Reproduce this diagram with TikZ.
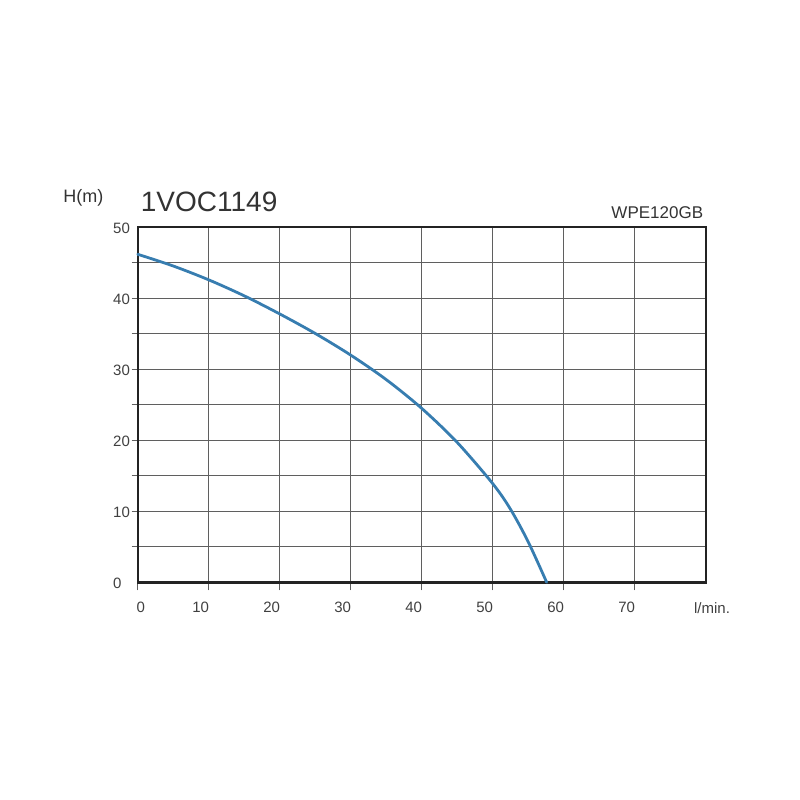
\documentclass[tikz,border=0pt]{standalone}
\usepackage{fontspec}
\setmainfont{Liberation Sans}
\definecolor{curveblue}{RGB}{55,125,176}
\definecolor{gridgray}{RGB}{95,95,95}
\definecolor{framegray}{RGB}{35,35,35}

\begin{document}
\begin{tikzpicture}[x=7.1pt, y=7.1pt,
    gridline/.style={gridgray, line width=1.1pt},
    frameline/.style={framegray, line width=2.4pt, line join=miter},
    headcurve/.style={curveblue, line width=2.8pt, line cap=round},
    ticklabel/.style={inner sep=0pt, text=black!75, font=\fontsize{15}{18}\selectfont},
    titlelabel/.style={inner sep=0pt, text=black!80}]
  \useasboundingbox (-137.7pt,-217.7pt) rectangle (662.3pt,582.3pt);
  % grid with ticks
  \foreach \y in {5,10,...,45}
    \draw[gridline] ([xshift=-6pt]0,\y) -- (80,\y);
  \foreach \x in {0,10,...,70}
    \draw[gridline] ([yshift=-8pt]\x,0) -- (\x,50);
  \draw[frameline] (0,0) rectangle (80,50);
  % pump curve
  \draw[headcurve] plot[smooth, tension=0.5] coordinates {(0,46.2) (5,44.55) (10,42.6) (15,40.35) (20,37.8) (25,35.05) (30,32.0) (35,28.55) (40,24.5) (45,19.7) (50,13.9) (52.5,10.3) (55,5.7) (57.6,0)};
  % axis labels
  \foreach \y in {0,10,...,50}
    \node[ticklabel, anchor=west] (yl\y) at ([xshift=-24.7pt, yshift=-1.5pt]0,\y) {\y};
  \node[ticklabel] (xl0) at ([xshift=3pt, yshift=-25.4pt]0,0) {0};
  \foreach \x in {10,20,...,70}
    \node[ticklabel] (xl\x) at ([xshift=-8pt, yshift=-25.4pt]\x,0) {\x};
  \node[ticklabel] (unit) at (574.3pt,-25.4pt) {l/min.};
  \node[titlelabel, anchor=base west, font=\fontsize{18}{21}\selectfont] (hm) at (-74.4pt,380pt) {H(m)};
  \node[titlelabel, anchor=base west, font=\fontsize{28}{32}\selectfont] (model) at (3pt,370.6pt) {1VOC1149};
  \node[titlelabel, anchor=base east, font=\fontsize{17}{20}\selectfont] (pump) at (565.6pt,363.3pt) {WPE120GB};
\end{tikzpicture}
\end{document}
